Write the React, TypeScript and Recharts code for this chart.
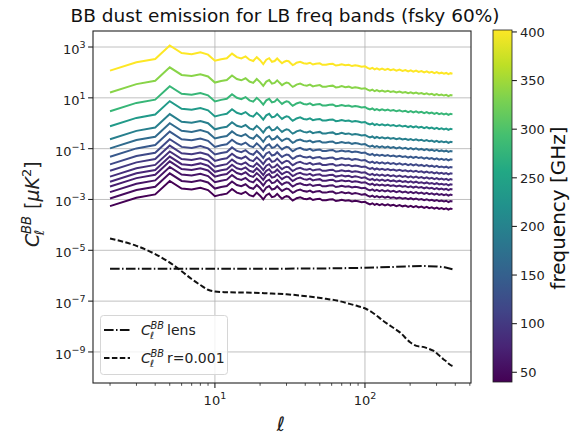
import { LineChart, Line, XAxis, YAxis, ReferenceLine } from 'recharts'

// LiteBIRD bands, top curve first
const freqs = [402, 337, 280, 235, 195, 166, 140, 119, 100, 89, 78, 68, 60, 50, 40]
// how many decades each band sits below the 402 GHz curve
const bandDrop = [0, 0.86, 1.6, 2.19, 2.7, 3.06, 3.39, 3.69, 3.94, 4.17, 4.37, 4.56, 4.78, 5.03, 5.33]

// multipoles and log10(C_ell) of the 402 GHz dust curve
const ellDust = [
  2, 3, 4, 5, 6, 7, 8, 9, 10, 11, 12, 13, 14, 15, 16, 17, 18, 19, 20, 21, 22, 23, 24, 25, 26, 27, 28, 29, 30,
  31, 32, 33, 34, 35, 37, 39, 41, 43, 45, 47, 50, 52, 55, 58, 61, 64, 67, 70, 74, 78, 82, 86, 90, 95, 100,
  104, 108, 112, 116, 120, 125, 130, 136, 142, 148, 155, 162, 170, 178, 186, 194, 202, 210, 219, 228, 238,
  248, 258, 268, 279, 290, 301, 312, 324, 336, 348, 360, 372, 383,
]
const log402 = [
  2.07, 2.4, 2.53, 3.06, 2.76, 2.72, 2.79, 2.7, 2.46, 2.52, 2.56, 2.74, 2.6, 2.55, 2.63, 2.5, 2.45, 2.6, 2.48, 2.33,
  2.5, 2.56, 2.42, 2.45, 2.55, 2.45, 2.36, 2.42, 2.46, 2.44, 2.36, 2.29, 2.33, 2.38, 2.42, 2.36, 2.34, 2.38, 2.31,
  2.34, 2.36, 2.3, 2.3, 2.33, 2.34, 2.27, 2.29, 2.32, 2.28, 2.3, 2.25, 2.28, 2.26, 2.22, 2.24,
  2.18, 2.14, 2.18, 2.12, 2.16, 2.11, 2.15, 2.1, 2.14, 2.09, 2.12, 2.07, 2.11, 2.06, 2.09, 2.04, 2.08, 2.03, 2.07,
  2.02, 2.05, 2.0, 2.04, 1.99, 2.02, 1.97, 2.01, 1.96, 1.99, 1.95, 1.98, 1.93, 1.97, 1.95,
]

const ellLens = [2, 10, 30, 60, 100, 150, 200, 250, 300, 340, 383]
const clLens = [1.9e-6, 1.9e-6, 1.9e-6, 1.95e-6, 2.05e-6, 2.2e-6, 2.35e-6, 2.4e-6, 2.3e-6, 2.15e-6, 1.8e-6]

const ellTensor = [
  2, 3, 4, 5, 6, 7, 8, 9, 10, 12, 14, 18, 22, 30, 37, 45, 55, 65, 79, 90, 102, 115, 132, 150, 171, 200, 220, 244,
  265, 285, 310, 333, 350, 367, 383,
]
const clTensor = [
  2.9e-5, 1.5e-5, 7.1e-6, 3.3e-6, 1.5e-6, 7.4e-7, 4.3e-7, 2.8e-7, 2.4e-7, 2.24e-7, 2.19e-7, 2.14e-7, 2.04e-7,
  1.86e-7, 1.66e-7, 1.45e-7, 1.23e-7, 1.05e-7, 7.8e-8, 6.3e-8, 4.9e-8, 3.2e-8, 1.7e-8, 1.0e-8, 5.9e-9, 2.4e-9,
  1.74e-9, 1.58e-9, 1.35e-9, 1.12e-9, 7.6e-10, 5.2e-10, 4.2e-10, 3.2e-10, 2.8e-10,
]

const yTicks = [1e3, 1e1, 1e-1, 1e-3, 1e-5, 1e-7, 1e-9]
const xTicks = [2, 3, 4, 5, 6, 7, 8, 9, 10, 20, 30, 40, 50, 60, 70, 80, 90, 100, 200, 300, 400, 500]
const cbarTicks = [50, 100, 150, 200, 250, 300, 350, 400]

const viridisStops = ['#440154', '#482475', '#414487', '#355f8d', '#2a788e', '#21918c', '#22a884', '#44bf70', '#7ad151', '#bddf26', '#fde725']

const FONT = 'DejaVu Sans, sans-serif'
const FMIN = 40
const FMAX = 402

function hex(c: string) {
  return [1, 3, 5].map(i => parseInt(c.slice(i, i + 2), 16))
}

function viridis(t: number) {
  const s = Math.max(0, Math.min(1, t)) * (viridisStops.length - 1)
  const i = Math.min(Math.floor(s), viridisStops.length - 2)
  const f = s - i
  const a = hex(viridisStops[i])
  const b = hex(viridisStops[i + 1])
  const m = a.map((v, k) => Math.round(v + (b[k] - v) * f))
  return `rgb(${m[0]},${m[1]},${m[2]})`
}

const dustSeries = freqs.map((f, b) => ({
  f,
  color: viridis((f - FMIN) / (FMAX - FMIN)),
  data: ellDust.map((ell, i) => ({ ell, cl: Math.pow(10, log402[i] - bandDrop[b]) })),
}))
const lensData = ellLens.map((ell, i) => ({ ell, cl: clLens[i] }))
const tensorData = ellTensor.map((ell, i) => ({ ell, cl: clTensor[i] }))

const DASHDOT = '9.6 2.4 1.5 2.4'
const DASHED = '5.5 2.4'

function expLabel(e: number) {
  return e < 0 ? `\u2212${-e}` : `${e}`
}

function XTick(props: any) {
  const { x, y, payload } = props
  const e = Math.log10(payload.value)
  const major = Math.abs(e - Math.round(e)) < 1e-6
  return (
    <g>
      <line x1={x} x2={x} y1={y} y2={y + (major ? 4.9 : 2.8)} stroke="#222" strokeWidth={major ? 1.1 : 0.8} />
      {major && (
        <text x={x} y={y + 22} textAnchor="middle" fontFamily={FONT} fontSize={13} fill="#222">
          10<tspan dy={-6} fontSize={9.5}>{expLabel(Math.round(e))}</tspan>
        </text>
      )}
    </g>
  )
}

function YTick(props: any) {
  const { x, y, payload } = props
  const e = Math.round(Math.log10(payload.value))
  return (
    <g>
      <line x1={x - 4.9} x2={x} y1={y} y2={y} stroke="#222" strokeWidth={1.1} />
      <text x={x - 7.5} y={y + 7} textAnchor="end" fontFamily={FONT} fontSize={13} fill="#222">
        10<tspan dy={-6} fontSize={9.5}>{expLabel(e)}</tspan>
      </text>
    </g>
  )
}

function ClSymbol({ x, y, size }: { x: number; y: number; size: number }) {
  const s = size * 0.7
  return (
    <g fontFamily={FONT} fill="#222">
      <text x={x} y={y} fontSize={size} fontStyle="italic">C</text>
      <text x={x + size * 0.68} y={y - size * 0.42} fontSize={s} fontStyle="italic">BB</text>
      <text x={x + size * 0.62} y={y + size * 0.28} fontSize={s} fontStyle="italic">ℓ</text>
    </g>
  )
}

const PLOT = { left: 93, top: 31, right: 471, bottom: 383 }
const CBAR = { left: 493, right: 512, top: 30, bottom: 382 }
const LEG = { left: 100, top: 315, width: 128, height: 60 }

function LegendBox() {
  return (
    <g transform={`translate(${LEG.left},${LEG.top})`}>
      <rect
        x={0.5}
        y={0.5}
        width={LEG.width - 1}
        height={LEG.height - 1}
        rx={3}
        fill="#fff"
        fillOpacity={0.8}
        stroke="#d6d6d6"
        strokeWidth={1}
      />
      <line x1={4} x2={30} y1={15} y2={15} stroke="#111" strokeWidth={2} strokeDasharray={DASHDOT} />
      <ClSymbol x={41} y={20} size={14} />
      <text x={67} y={20} fontFamily={FONT} fontSize={14} fill="#222">lens</text>
      <line x1={4} x2={30} y1={43} y2={43} stroke="#111" strokeWidth={2} strokeDasharray={DASHED} />
      <ClSymbol x={41} y={48} size={14} />
      <text x={67} y={48} fontFamily={FONT} fontSize={14} fill="#222">r=0.001</text>
    </g>
  )
}

function Overlay() {
  const cbY = (v: number) => CBAR.bottom - ((v - FMIN) / (FMAX - FMIN)) * (CBAR.bottom - CBAR.top)
  return (
    <svg width={582} height={435} style={{ position: 'absolute', left: 0, top: 0, pointerEvents: 'none' }}>
      <defs>
        <linearGradient id="vir" x1="0" y1="1" x2="0" y2="0">
          {viridisStops.map((c, i) => (
            <stop key={i} offset={i / (viridisStops.length - 1)} stopColor={c} />
          ))}
        </linearGradient>
      </defs>
      <text x={285} y={22} textAnchor="middle" fontFamily={FONT} fontSize={18.5} fill="#111">
        BB dust emission for LB freq bands (fsky 60%)
      </text>
      <LegendBox />
      <rect
        x={PLOT.left}
        y={PLOT.top}
        width={PLOT.right - PLOT.left}
        height={PLOT.bottom - PLOT.top}
        fill="none"
        stroke="#222"
        strokeWidth={1.1}
      />
      <g transform="translate(39,197) rotate(-90)">
        <ClSymbol x={-50} y={0} size={19} />
        <text x={-12} y={0} fontFamily={FONT} fontSize={19} fill="#222">
          [<tspan fontStyle="italic">μK</tspan>
          <tspan dy={-8} fontSize={13}>2</tspan>
          <tspan dy={8}>]</tspan>
        </text>
      </g>
      <text x={281} y={431} textAnchor="middle" fontFamily={FONT} fontSize={20} fontStyle="italic" fill="#222">
        ℓ
      </text>
      <rect
        x={CBAR.left}
        y={CBAR.top}
        width={CBAR.right - CBAR.left}
        height={CBAR.bottom - CBAR.top}
        fill="url(#vir)"
        stroke="#222"
        strokeWidth={0.8}
      />
      {cbarTicks.map(v => (
        <g key={v}>
          <line x1={CBAR.right} x2={CBAR.right + 4.9} y1={cbY(v)} y2={cbY(v)} stroke="#222" strokeWidth={1.1} />
          <text x={CBAR.right + 8} y={cbY(v) + 4.7} fontFamily={FONT} fontSize={13} fill="#222">
            {v}
          </text>
        </g>
      ))}
      <text
        transform="translate(565,208) rotate(-90)"
        textAnchor="middle"
        fontFamily={FONT}
        fontSize={20}
        fill="#111"
      >
        frequency [GHz]
      </text>
    </svg>
  )
}

export default function App() {
  return (
    <div style={{ position: 'absolute', left: 0, top: 0, width: 582, height: 435, background: '#fff' }}>
      <LineChart
        width={582}
        height={435}
        margin={{ top: PLOT.top, right: 582 - PLOT.right, bottom: 0, left: 0 }}
      >
        <XAxis
          dataKey="ell"
          type="number"
          scale="log"
          domain={[1.54, 509]}
          allowDataOverflow
          ticks={xTicks}
          interval={0}
          height={435 - PLOT.bottom}
          tickSize={0}
          tickMargin={0}
          axisLine={false}
          tickLine={false}
          tick={<XTick />}
        />
        <YAxis
          dataKey="cl"
          type="number"
          scale="log"
          domain={[6.0e-11, 4266]}
          allowDataOverflow
          ticks={yTicks}
          interval={0}
          width={PLOT.left}
          tickSize={0}
          tickMargin={0}
          axisLine={false}
          tickLine={false}
          tick={<YTick />}
        />
        {yTicks.map(v => (
          <ReferenceLine key={`gy${v}`} y={v} stroke="#b0b0b0" strokeWidth={0.8} />
        ))}
        {[10, 100].map(v => (
          <ReferenceLine key={`gx${v}`} x={v} stroke="#b0b0b0" strokeWidth={0.8} />
        ))}
        {dustSeries
          .slice()
          .reverse()
          .map(s => (
            <Line
              key={s.f}
              data={s.data}
              dataKey="cl"
              type="linear"
              stroke={s.color}
              strokeWidth={2}
              dot={false}
              isAnimationActive={false}
              name={`${s.f} GHz`}
            />
          ))}
        <Line
          data={lensData}
          dataKey="cl"
          type="linear"
          stroke="#111"
          strokeWidth={2}
          strokeDasharray={DASHDOT}
          dot={false}
          isAnimationActive={false}
          name="lens"
        />
        <Line
          data={tensorData}
          dataKey="cl"
          type="monotone"
          stroke="#111"
          strokeWidth={2}
          strokeDasharray={DASHED}
          dot={false}
          isAnimationActive={false}
          name="r=0.001"
        />
      </LineChart>
      <Overlay />
    </div>
  )
}
